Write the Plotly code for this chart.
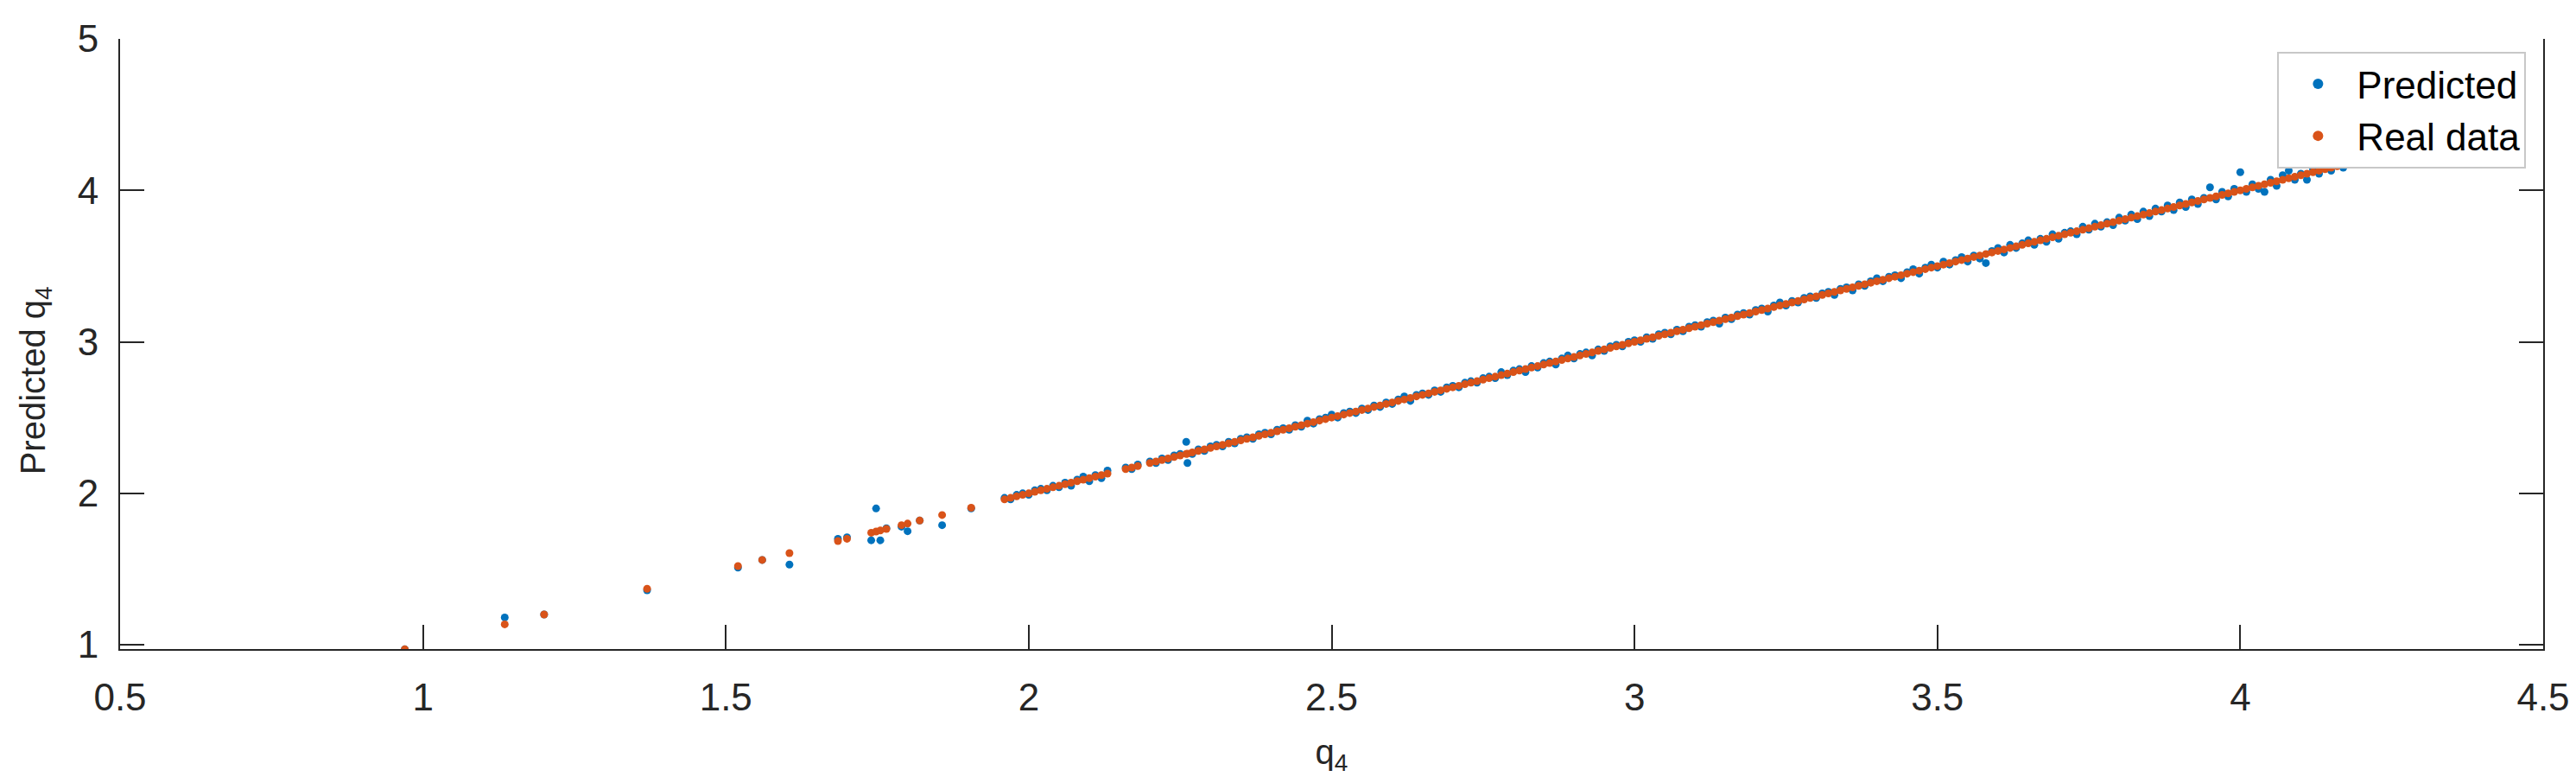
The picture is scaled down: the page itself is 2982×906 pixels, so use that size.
import plotly.graph_objects as go

q4_real = [
    0.97, 1.135, 1.20, 1.37, 1.52, 1.56, 1.605, 1.685, 1.70, 1.74,
    1.748, 1.755, 1.765, 1.79, 1.80, 1.82, 1.857, 1.905,
    1.96, 1.97, 1.98, 1.99, 2.00, 2.01, 2.02, 2.03, 2.04, 2.05,
    2.06, 2.07, 2.08, 2.09, 2.10, 2.11, 2.12, 2.13, 2.16, 2.17,
    2.18, 2.20, 2.21, 2.22, 2.23, 2.24, 2.25, 2.26, 2.262, 2.27, 2.28,
    2.29, 2.30, 2.31, 2.32, 2.33, 2.34, 2.35, 2.36, 2.37, 2.38,
    2.39, 2.40, 2.41, 2.42, 2.43, 2.44, 2.45, 2.46, 2.47, 2.48,
    2.49, 2.50, 2.51, 2.52, 2.53, 2.54, 2.55, 2.56, 2.57, 2.58,
    2.59, 2.60, 2.61, 2.62, 2.63, 2.64, 2.65, 2.66, 2.67, 2.68,
    2.69, 2.70, 2.71, 2.72, 2.73, 2.74, 2.75, 2.76, 2.77, 2.78,
    2.79, 2.80, 2.81, 2.82, 2.83, 2.84, 2.85, 2.86, 2.87, 2.88,
    2.89, 2.90, 2.91, 2.92, 2.93, 2.94, 2.95, 2.96, 2.97, 2.98,
    2.99, 3.00, 3.01, 3.02, 3.03, 3.04, 3.05, 3.06, 3.07, 3.08,
    3.09, 3.10, 3.11, 3.12, 3.13, 3.14, 3.15, 3.16, 3.17, 3.18,
    3.19, 3.20, 3.21, 3.22, 3.23, 3.24, 3.25, 3.26, 3.27, 3.28,
    3.29, 3.30, 3.31, 3.32, 3.33, 3.34, 3.35, 3.36, 3.37, 3.38,
    3.39, 3.40, 3.41, 3.42, 3.43, 3.44, 3.45, 3.46, 3.47, 3.48,
    3.49, 3.50, 3.51, 3.52, 3.53, 3.54, 3.55, 3.56, 3.57, 3.58,
    3.59, 3.60, 3.61, 3.62, 3.63, 3.64, 3.65, 3.66, 3.67, 3.68,
    3.69, 3.70, 3.71, 3.72, 3.73, 3.74, 3.75, 3.76, 3.77, 3.78,
    3.79, 3.80, 3.81, 3.82, 3.83, 3.84, 3.85, 3.86, 3.87, 3.88,
    3.89, 3.90, 3.91, 3.92, 3.93, 3.94, 3.95, 3.96, 3.97, 3.98,
    3.99, 4.00, 4.01, 4.02, 4.03, 4.04, 4.05, 4.06, 4.07, 4.08,
    4.09, 4.10, 4.11, 4.12, 4.13, 4.14, 4.15, 4.16, 4.17, 4.18,
    4.19, 4.20, 4.21,
]

q4_pred = [
    0.97, 1.18, 1.20, 1.36, 1.51, 1.56, 1.53, 1.70, 1.71, 1.69,
    1.90, 1.69, 1.77, 1.78, 1.75, 1.82, 1.79, 1.90,
    1.97, 1.96, 1.99, 2.00, 1.99, 2.02, 2.03, 2.02, 2.05, 2.04,
    2.07, 2.05, 2.09, 2.11, 2.08, 2.12, 2.10, 2.15, 2.17, 2.16,
    2.19, 2.21, 2.20, 2.23, 2.22, 2.25, 2.26, 2.34, 2.20, 2.26, 2.29,
    2.28, 2.31, 2.32, 2.31, 2.34, 2.33, 2.36, 2.37, 2.36, 2.39,
    2.40, 2.39, 2.42, 2.43, 2.42, 2.45, 2.44, 2.48, 2.46, 2.49,
    2.50, 2.52, 2.50, 2.53, 2.54, 2.53, 2.56, 2.55, 2.58, 2.57,
    2.60, 2.59, 2.62, 2.64, 2.61, 2.65, 2.66, 2.65, 2.68, 2.67,
    2.70, 2.71, 2.70, 2.73, 2.74, 2.73, 2.76, 2.77, 2.76, 2.80,
    2.78, 2.81, 2.82, 2.80, 2.84, 2.83, 2.86, 2.87, 2.85, 2.89,
    2.91, 2.89, 2.92, 2.93, 2.91, 2.95, 2.94, 2.97, 2.98, 2.97,
    3.00, 3.01, 3.00, 3.03, 3.02, 3.05, 3.06, 3.05, 3.08, 3.07,
    3.10, 3.11, 3.10, 3.13, 3.14, 3.12, 3.16, 3.15, 3.18, 3.19,
    3.18, 3.21, 3.22, 3.20, 3.24, 3.26, 3.24, 3.27, 3.26, 3.29,
    3.30, 3.29, 3.32, 3.33, 3.31, 3.35, 3.36, 3.34, 3.38, 3.37,
    3.40, 3.42, 3.40, 3.43, 3.44, 3.42, 3.46, 3.48, 3.45, 3.49,
    3.51, 3.49, 3.53, 3.51, 3.54, 3.56, 3.53, 3.57, 3.55, 3.52,
    3.60, 3.62, 3.59, 3.64, 3.62, 3.65, 3.67, 3.64, 3.68, 3.66,
    3.71, 3.68, 3.72, 3.73, 3.71, 3.76, 3.74, 3.78, 3.76, 3.79,
    3.77, 3.82, 3.80, 3.84, 3.81, 3.86, 3.83, 3.88, 3.86, 3.90,
    3.87, 3.92, 3.89, 3.94, 3.91, 3.95, 4.02, 3.94, 3.99, 3.96,
    4.01, 4.12, 3.99, 4.04, 4.01, 3.99, 4.07, 4.03, 4.10, 4.13,
    4.07, 4.11, 4.07, 4.14, 4.11, 4.16, 4.13, 4.18, 4.15, 4.19,
    4.18, 4.21, 4.20,
]

x_ticks = [0.5, 1, 1.5, 2, 2.5, 3, 3.5, 4, 4.5]
y_ticks = [1, 2, 3, 4, 5]

FONT = "Liberation Sans, Arial, Helvetica, sans-serif"
AXIS_COL = "#262626"

fig = go.Figure()
fig.add_trace(go.Scatter(x=q4_real, y=q4_pred, mode="markers", name="Predicted",
                         marker=dict(color="#0072BD", size=9, line=dict(width=0))))
fig.add_trace(go.Scatter(x=q4_real, y=q4_real, mode="markers", name="Real data",
                         marker=dict(color="#D95319", size=9, line=dict(width=0))))

fig.update_layout(
    width=2982, height=906,
    margin=dict(l=131, r=46, t=28, b=163),
    paper_bgcolor="white", plot_bgcolor="white",
    font=dict(family=FONT, size=42, color=AXIS_COL),
    showlegend=True,
    legend=dict(x=0.993, y=0.979, xanchor="right", yanchor="top",
                bgcolor="white", bordercolor="#c8c8c8", borderwidth=2,
                font=dict(size=44, color="black"), itemsizing="constant",
                itemwidth=80, tracegroupgap=0),
    annotations=[dict(text="Predicted q<sub>4</sub>", textangle=-90,
                      xref="paper", yref="paper", x=0, y=0.44,
                      xshift=-98, xanchor="center", yanchor="middle",
                      showarrow=False, font=dict(size=40, color=AXIS_COL))],
)
fig.update_xaxes(range=[0.5, 4.5], tickvals=x_ticks, ticktext=[f"{t:g}" for t in x_ticks],
                 ticks="inside", ticklen=28, tickwidth=2, tickcolor=AXIS_COL,
                 showline=True, linecolor=AXIS_COL, linewidth=2, mirror=False,
                 showgrid=False, zeroline=False,
                 tickfont=dict(size=44), ticklabelstandoff=16,
                 title=dict(text="q<sub>4</sub>", font=dict(size=40), standoff=26))
fig.update_yaxes(range=[0.972, 5.0], tickvals=y_ticks,
                 ticks="inside", ticklen=28, tickwidth=2, tickcolor=AXIS_COL,
                 showline=True, linecolor=AXIS_COL, linewidth=2, mirror="ticks",
                 showgrid=False, zeroline=False,
                 tickfont=dict(size=44), ticklabelstandoff=14)

fig.write_html("out.html")
